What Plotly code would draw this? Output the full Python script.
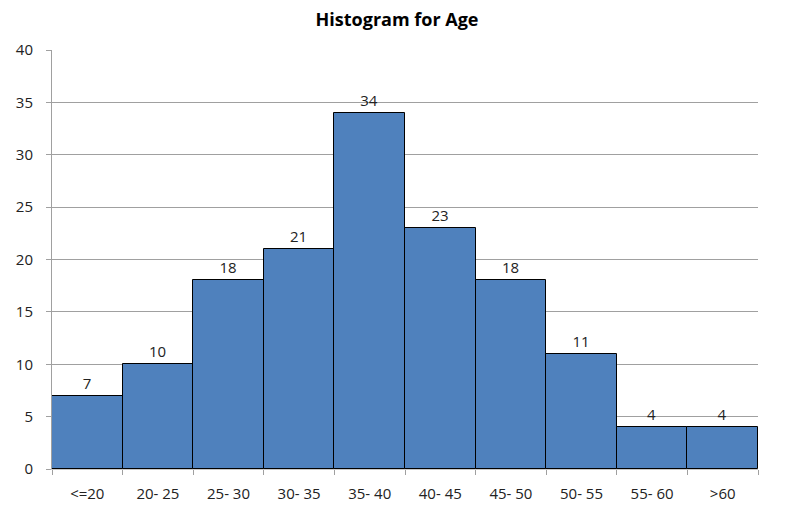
import plotly.graph_objects as go

categories = ["<=20", "20- 25", "25- 30", "30- 35", "35- 40", "40- 45", "45- 50", "50- 55", "55- 60", ">60"]
counts = [7, 10, 18, 21, 34, 23, 18, 11, 4, 4]
y_ticks = [0, 5, 10, 15, 20, 25, 30, 35, 40]

FONT = "Open Sans, Liberation Sans, sans-serif"

fig = go.Figure(go.Bar(
    x=categories,
    y=counts,
    text=[str(c) for c in counts],
    textposition="outside",
    textfont=dict(family=FONT, size=15, color="#222222"),
    cliponaxis=False,
    marker=dict(color="#4F81BD", line=dict(color="#000000", width=1)),
))

fig.update_layout(
    width=794, height=516,
    margin=dict(l=44, r=44, t=42, b=55),
    paper_bgcolor="white", plot_bgcolor="white",
    bargap=0,
    showlegend=False,
    title=dict(text="<b>Histogram for Age</b>", x=0.49, xanchor="center", y=0.977, yanchor="middle",
               font=dict(family=FONT, size=18, color="#000000")),
    font=dict(family=FONT, size=15, color="#222222"),
)
fig.update_xaxes(
    tickson="boundaries", ticks="outside", ticklen=5, tickcolor="#A0A0A0",
    showline=True, linecolor="#C8C8C8", linewidth=1,
    showgrid=False, automargin=False,
    tickfont=dict(size=15, color="#222222"),
    ticklabelstandoff=11,
)
fig.update_yaxes(
    range=[0, 40], tickvals=y_ticks,
    ticks="outside", ticklen=5, tickcolor="#A0A0A0",
    showline=True, linecolor="#A0A0A0", linewidth=1,
    showgrid=True, gridcolor="#A0A0A0", gridwidth=1,
    zeroline=False, automargin=False,
    tickfont=dict(size=15, color="#222222"),
    ticklabelstandoff=10,
)

fig.write_html("out.html")
